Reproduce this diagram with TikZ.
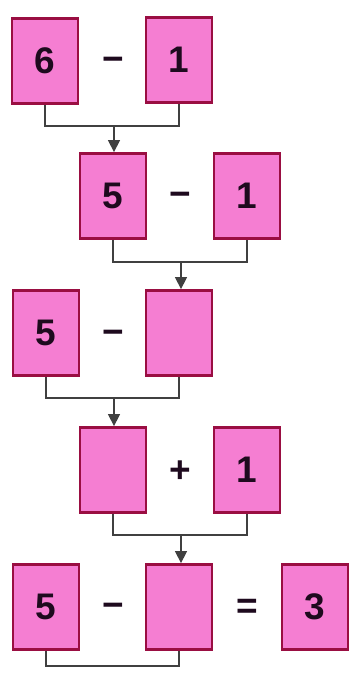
\documentclass[tikz,border=0pt]{standalone}
\usepackage{fontspec}
\setmainfont{Liberation Sans}
\usetikzlibrary{arrows.meta}
\definecolor{boxfill}{HTML}{F57ED2}
\definecolor{boxedge}{HTML}{9A0E42}
\definecolor{digit}{HTML}{1E0A1E}
\tikzset{
  numbox/.style={draw=boxedge, line width=2.8pt, fill=boxfill, minimum width=66pt, minimum height=85pt, inner sep=0pt, font=\fontsize{37}{37}\selectfont\bfseries, text=digit},
  opsign/.style={font=\fontsize{37}{37}\selectfont\bfseries, text=digit, inner sep=0pt},
  link/.style={draw=black!75, line width=1.4pt},
  arr/.style={link, -{Triangle[length=12pt,width=12pt]}}
}
\begin{document}
\begin{tikzpicture}[x=1pt,y=-1pt]
\useasboundingbox (0,0) rectangle (358,675);
% row 1
\node[numbox] (a1) at (45,61) {6};
\node[opsign] (o1) at (113,64) {\textminus};
\node[numbox] (b1) at (179,60) {1};
% row 2
\node[numbox] (a2) at (113,196) {5};
\node[opsign] (o2) at (180,199) {\textminus};
\node[numbox] (b2) at (247,196) {1};
% row 3
\node[numbox] (a3) at (46,333) {5};
\node[opsign] (o3) at (113,337) {\textminus};
\node[numbox] (b3) at (179,333) {};
% row 4
\node[numbox] (a4) at (113,470) {};
\node[opsign] (o4) at (180,472) {+};
\node[numbox] (b4) at (247,470) {1};
% row 5
\node[numbox] (a5) at (46,607) {5};
\node[opsign] (o5) at (113,610) {\textminus};
\node[numbox] (b5) at (179,607) {};
\node[opsign] (e5) at (247,609) {=};
\node[numbox] (c5) at (315,607) {3};
% connectors
\coordinate (j1) at (114,126);
\draw[link] (a1.south) |- (j1) -| (b1.south);
\draw[arr] (j1) -- (j1 |- a2.north);
\coordinate (j2) at (181,262);
\draw[link] (a2.south) |- (j2) -| (b2.south);
\draw[arr] (j2) -- (j2 |- b3.north);
\coordinate (j3) at (114,398);
\draw[link] (a3.south) |- (j3) -| (b3.south);
\draw[arr] (j3) -- (j3 |- a4.north);
\coordinate (j4) at (181,535);
\draw[link] (a4.south) |- (j4) -| (b4.south);
\draw[arr] (j4) -- (j4 |- b5.north);
\coordinate (j5) at (114,666);
\draw[link] (a5.south) |- (j5) -| (b5.south);
\end{tikzpicture}
\end{document}
